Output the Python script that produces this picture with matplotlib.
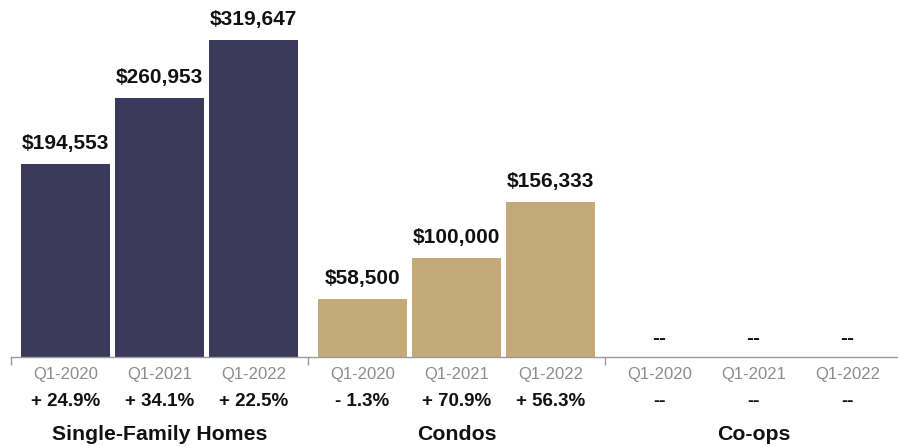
import matplotlib
matplotlib.use("Agg")
import matplotlib.pyplot as plt
import matplotlib.transforms as mtransforms

plt.rcParams['font.family'] = ['Liberation Sans', 'DejaVu Sans']

# median sales price by property type, first quarter of each year
groups = ['Single-Family Homes', 'Condos', 'Co-ops']
quarters = ['Q1-2020', 'Q1-2021', 'Q1-2022']
prices = [
    [194553, 260953, 319647],
    [58500, 100000, 156333],
    [None, None, None],
]
changes = [
    ['+ 24.9%', '+ 34.1%', '+ 22.5%'],
    ['- 1.3%', '+ 70.9%', '+ 56.3%'],
    ['--', '--', '--'],
]
colors = ['#3b3a5c', '#c4a979', '#c4a979']

fig = plt.figure(figsize=(8.98, 4.47), dpi=100)
ax = fig.add_axes([11 / 898, 1 - 357 / 447, 891 / 898, 357 / 447])

group_step = 3.16
bar_w = 0.94
centers = []
for g, vals in enumerate(prices):
    for i, v in enumerate(vals):
        x = g * group_step + (i - 1)
        centers.append(x)
        if v is None:
            ax.text(x, 19000, '--', ha='center', va='center', fontsize=15, fontweight='bold', color='#111111')
            continue
        ax.bar(x, v, width=bar_w, color=colors[g])
        ax.text(x, v + 11000, f'${v:,}', ha='center', va='bottom', fontsize=15, fontweight='bold', color='#111111')

half = group_step / 2
ax.set_xlim(-half, 2 * group_step + half)
ax.set_ylim(0, 360000)

for s in ['top', 'right', 'left']:
    ax.spines[s].set_visible(False)
ax.spines['bottom'].set_color('#9a9a9a')
ax.spines['bottom'].set_linewidth(1)
ax.set_yticks([])

# group boundaries as tick marks, quarter names centred under each bar
ax.set_xticks([-half + k * group_step for k in range(4)])
ax.set_xticklabels([])
ax.tick_params(axis='x', which='major', length=6, color='#9a9a9a', width=1)
ax.set_xticks(centers, minor=True)
ax.set_xticklabels(quarters * 3, minor=True)
ax.tick_params(axis='x', which='minor', length=0, pad=7, labelsize=12, labelcolor='#8c8c8c')

trans = mtransforms.blended_transform_factory(ax.transData, ax.transAxes)
for g in range(3):
    for i in range(3):
        x = g * group_step + (i - 1)
        ax.text(x, -(401 - 357) / 357, changes[g][i], transform=trans, ha='center', va='center',
                fontsize=13.5, fontweight='bold', color='#111111')
    ax.text(g * group_step, -(435 - 357) / 357, groups[g], transform=trans, ha='center', va='center',
            fontsize=15.3, fontweight='bold', color='#111111')

fig.savefig('out.png', dpi=100)
